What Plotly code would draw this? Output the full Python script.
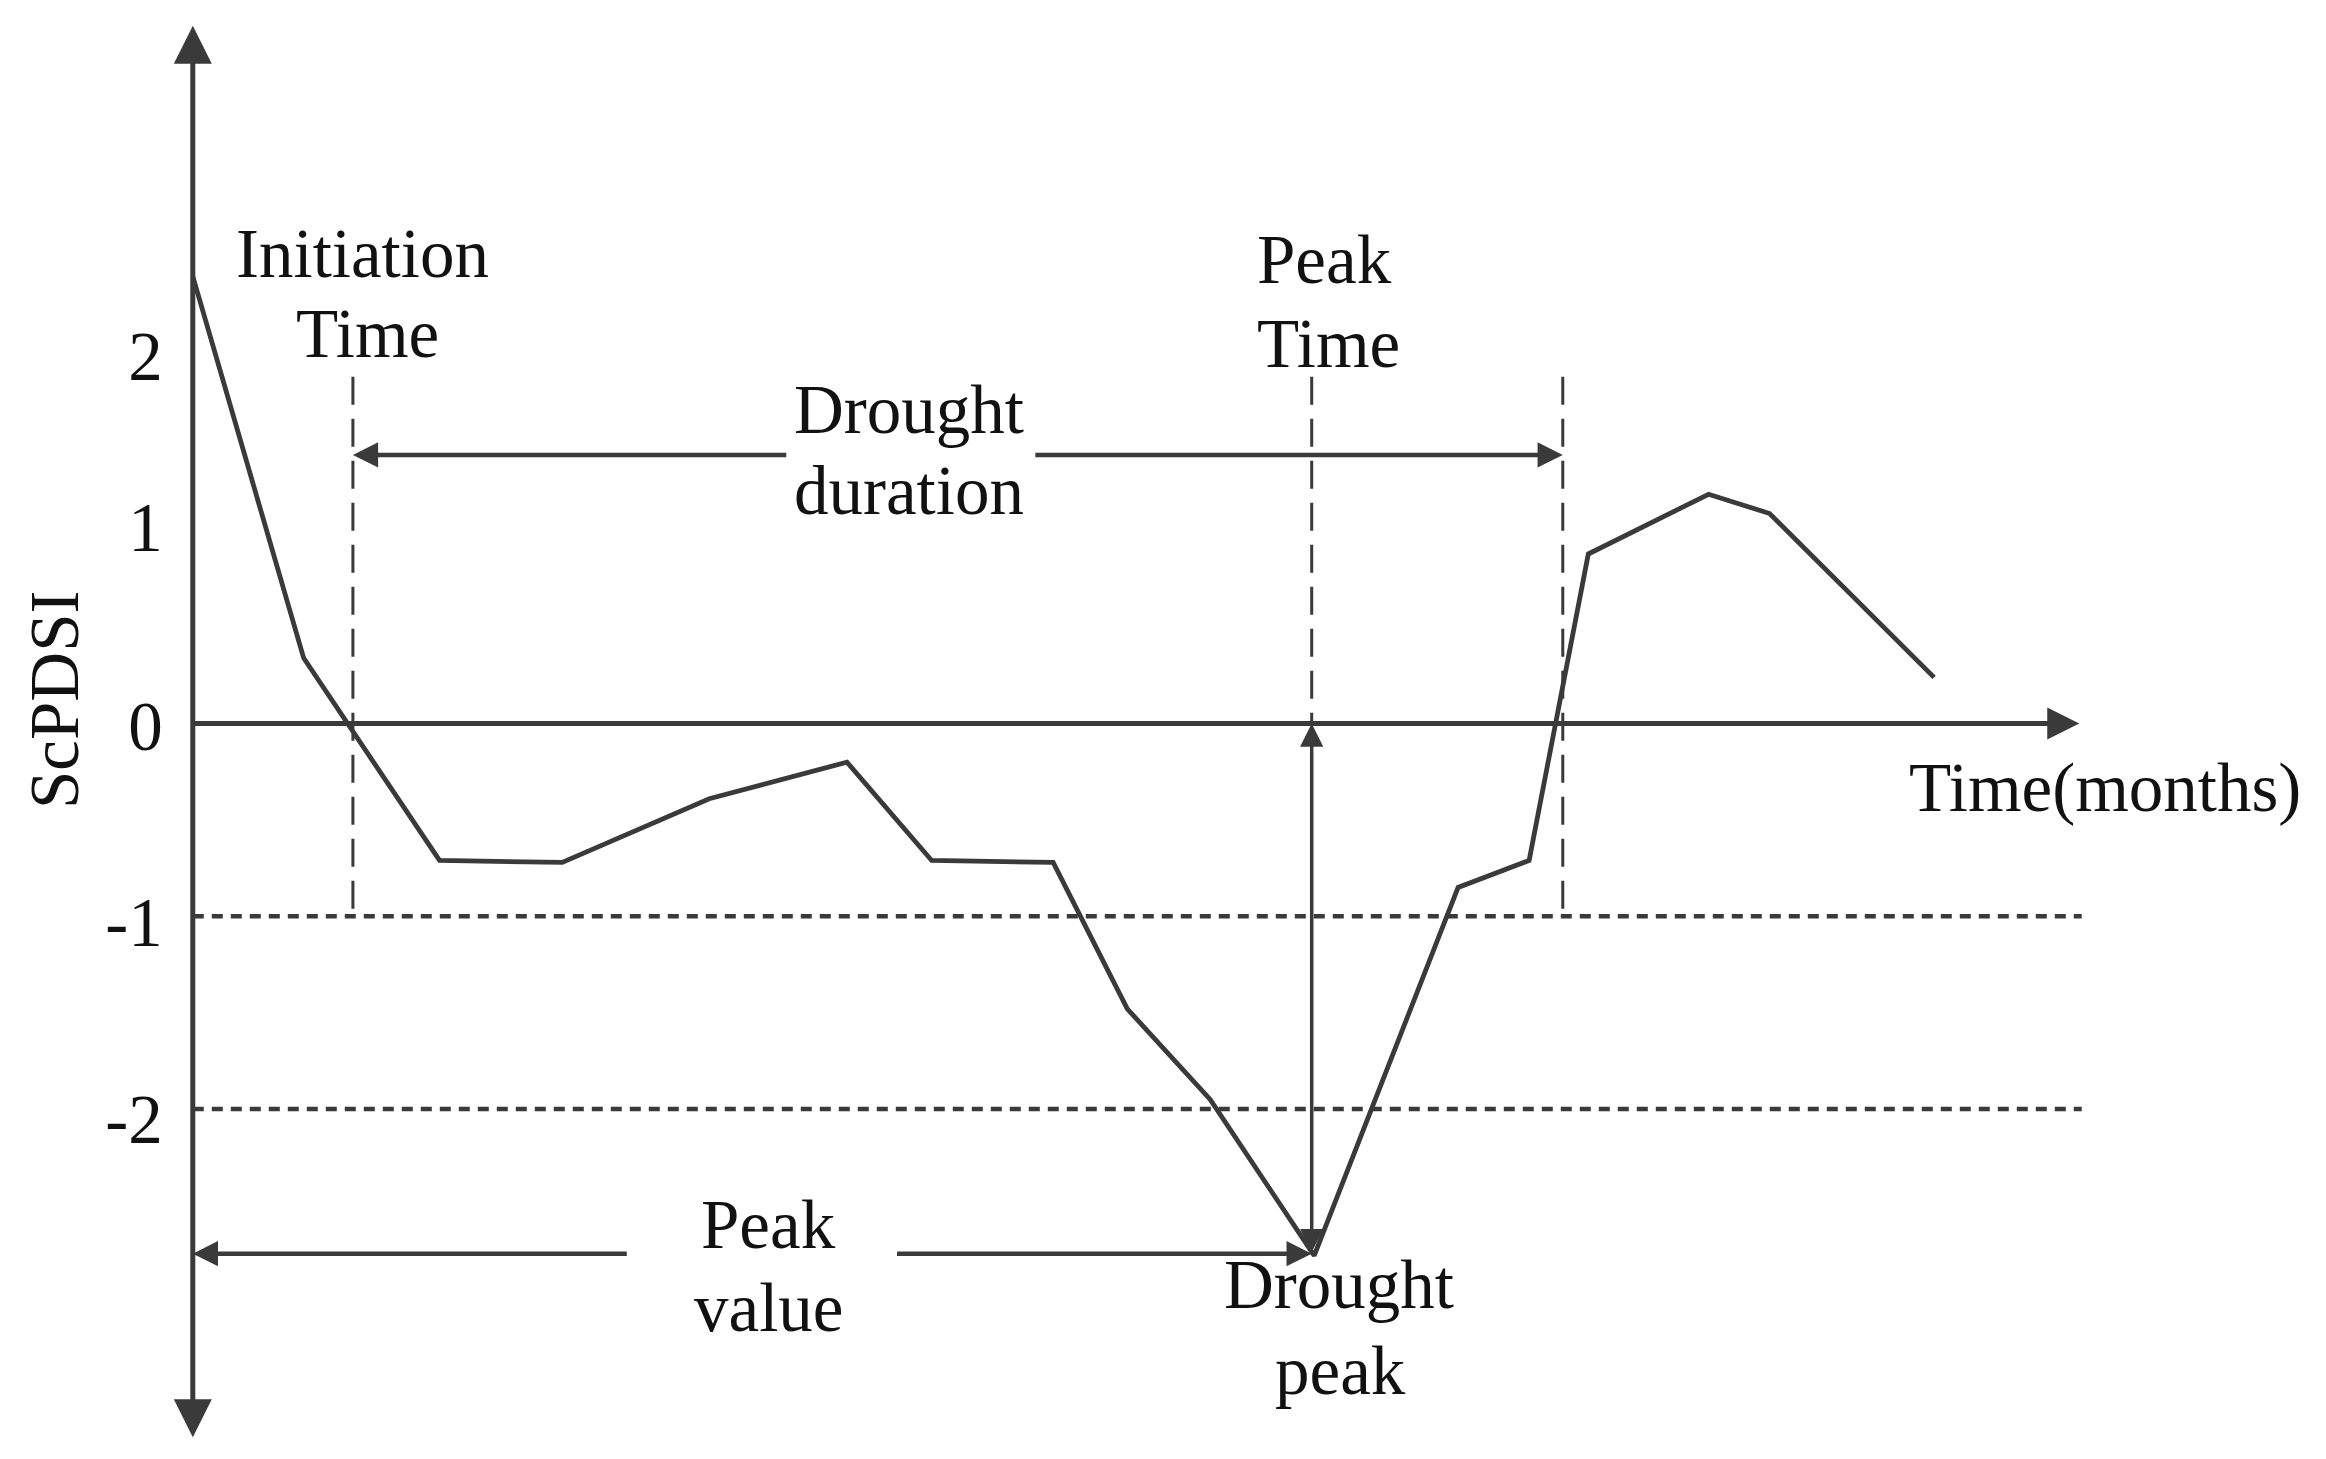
import plotly.graph_objects as go

# ---- data ----
months = [0.0, 1.78, 3.96, 5.93, 8.29, 10.5, 11.86, 13.81, 15.0, 16.33, 18.0,
          20.31, 21.45, 22.4, 24.33, 25.31, 27.95]
scpdsi = [2.32, 0.34, -0.71, -0.72, -0.39, -0.2, -0.71, -0.72, -1.48, -1.95, -2.76,
          -0.85, -0.71, 0.88, 1.19, 1.09, 0.24]

threshold_levels = [-1, -2]
threshold_span = [0.0, 30.32]

tick_positions = [1.91, 1.02, -0.01, -1.03, -2.05]
tick_labels = ["2", "1", "0", "-1", "-2"]

initiation_time = 2.57
peak_time = 17.96
termination_time = 21.99
peak_value = -2.75
marker_top = 1.8
duration_level = 1.394
duration_gap = [9.55, 13.5]
peak_value_gap = [6.99, 11.28]
y_axis_extent = [-3.71, 3.62]
x_axis_end = 30.28

label_texts = ["Initiation", "Time", "Peak", "Time", "Drought", "duration",
               "Peak", "value", "Drought", "peak", "Time(months)"]
label_x = [2.73, 2.80, 18.16, 18.23, 11.5, 11.5, 9.24, 9.24, 18.39, 18.43, 30.69]
label_y = [2.438, 2.023, 2.404, 1.969, 1.627, 1.208, -2.6, -3.03, -2.915, -3.36, -0.335]

# ---- styling ----
LINE = "#3a3a3a"
TEXT = "#111111"
FONT = "Liberation Serif, Times New Roman, serif"
FS = 69

fig = go.Figure()

# threshold dotted lines
for lvl in threshold_levels:
    fig.add_trace(go.Scatter(x=threshold_span, y=[lvl, lvl], mode="lines",
                             line=dict(color=LINE, width=4.5, dash="11px,8px"),
                             hoverinfo="skip", showlegend=False))

# dashed vertical markers
for xv, y0 in [(initiation_time, -1), (peak_time, 0), (termination_time, -1)]:
    fig.add_trace(go.Scatter(x=[xv, xv], y=[marker_top, y0], mode="lines",
                             line=dict(color=LINE, width=3, dash="28px,14px"),
                             hoverinfo="skip", showlegend=False))

# series
fig.add_trace(go.Scatter(x=months, y=scpdsi, mode="lines",
                         line=dict(color=LINE, width=4.8),
                         hoverinfo="skip", showlegend=False))


def arrow(x, y, ax, ay, width, size, both=False):
    fig.add_annotation(x=x, y=y, ax=ax, ay=ay, xref="x", yref="y",
                       axref="x", ayref="y", text="", showarrow=True,
                       arrowhead=2, arrowsize=size, arrowwidth=width,
                       startarrowhead=2, startarrowsize=size,
                       arrowside="end+start" if both else "end",
                       arrowcolor=LINE, standoff=0, startstandoff=0)


# axes
arrow(0, y_axis_extent[1], 0, y_axis_extent[0], 5, 1.52, both=True)
arrow(x_axis_end, 0, 0, 0, 5, 1.28)
# drought duration
arrow(initiation_time, duration_level, duration_gap[0], duration_level, 4.5, 1.12)
arrow(termination_time, duration_level, duration_gap[1], duration_level, 4.5, 1.12)
# peak value
arrow(0, peak_value, peak_value_gap[0], peak_value, 4.5, 1.12)
arrow(peak_time, peak_value, peak_value_gap[1], peak_value, 4.5, 1.12)
# drought peak vertical
arrow(peak_time, 0, peak_time, peak_value, 3.5, 1.33, both=True)

for t, xv, yv in zip(label_texts, label_x, label_y):
    fig.add_annotation(x=xv, y=yv, xref="x", yref="y", text=t, showarrow=False,
                       xanchor="center", yanchor="middle",
                       font=dict(family=FONT, size=FS, color=TEXT))

fig.add_annotation(x=-2.21, y=0.123, xref="x", yref="y", text="ScPDSI",
                   showarrow=False, textangle=-90, xanchor="center", yanchor="middle",
                   font=dict(family=FONT, size=FS, color=TEXT))

# page body has an 8px margin: size the figure and its ranges to compensate
OFF = 8
W, H = 2326 - OFF, 1459 - OFF
XPX, YPX = 62.3, 192.75          # pixels per data unit
X0PX, Y0PX = 192.8 - OFF, 723.6 - OFF   # pixel position of the origin
x0 = -X0PX / XPX
x1 = x0 + W / XPX
ytop = Y0PX / YPX
ybot = (Y0PX - H) / YPX

fig.update_layout(
    width=W, height=H, margin=dict(l=0, r=0, t=0, b=0),
    paper_bgcolor="white", plot_bgcolor="white", showlegend=False,
    xaxis=dict(range=[x0, x1], showgrid=False, zeroline=False, showline=False,
               showticklabels=False, ticks=""),
    yaxis=dict(range=[ybot, ytop], showgrid=False, zeroline=False, showline=False,
               anchor="free", position=X0PX / W, side="left",
               tickmode="array", tickvals=tick_positions, ticktext=tick_labels,
               ticks="", ticklabelstandoff=30,
               tickfont=dict(family=FONT, size=FS, color=TEXT)),
)

fig.write_html("out.html", config={"displayModeBar": False})
